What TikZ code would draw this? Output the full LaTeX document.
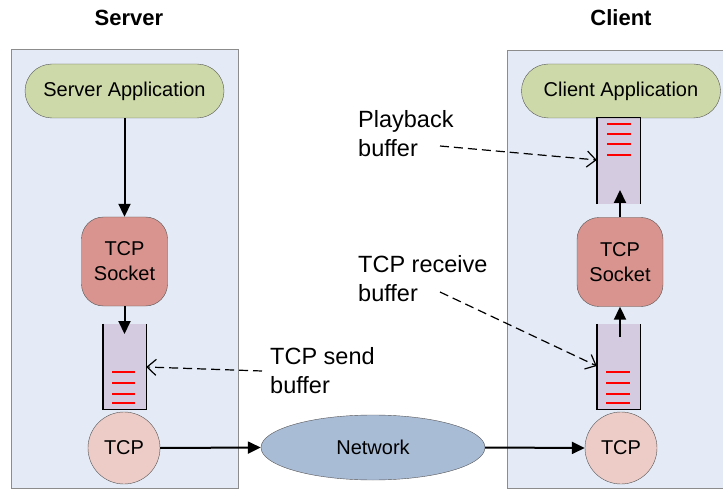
\documentclass[tikz,border=0pt]{standalone}
\usepackage{fontspec}
\setmainfont{Liberation Sans}
\usetikzlibrary{arrows.meta,shapes.geometric}

\definecolor{panelfill}{HTML}{E4EBF6}
\definecolor{panelline}{HTML}{8C8C8C}
\definecolor{appfill}{HTML}{CDD9A8}
\definecolor{sockfill}{HTML}{D9948F}
\definecolor{tcpfill}{HTML}{EDCCC8}
\definecolor{buffill}{HTML}{D4CBE0}
\definecolor{netfill}{HTML}{A9BCD6}
\definecolor{shapeline}{HTML}{555555}

\tikzset{
  panel/.style={draw=panelline, fill=panelfill, line width=1pt},
  appnode/.style={draw=shapeline, fill=appfill, rounded corners=27pt,
    minimum width=199pt, minimum height=54pt, inner sep=0pt,
    font=\fontsize{20}{24}\selectfont},
  socknode/.style={draw=shapeline, fill=sockfill, rounded corners=22pt,
    minimum width=86pt, minimum height=89pt, inner sep=0pt, align=center,
    font=\fontsize{20}{25}\selectfont},
  tcpnode/.style={circle, draw=shapeline, fill=tcpfill, minimum size=72pt,
    inner sep=0pt, font=\fontsize{20}{24}\selectfont},
  netnode/.style={ellipse, draw=shapeline, fill=netfill, minimum width=224pt,
    minimum height=65pt, inner sep=0pt, font=\fontsize{20}{24}\selectfont},
  bufnode/.style={fill=buffill, minimum width=43pt, inner sep=0pt},
  bufwall/.style={draw=black, line width=1.4pt},
  level/.style={draw=red, line width=1.2pt},
  flow/.style={line width=2pt, -{Triangle[length=13pt,width=12pt]}},
  pointer/.style={line width=1.2pt, dash pattern=on 9pt off 5pt,
    -{Straight Barb[length=9pt,width=16pt,line width=1.2pt]}},
  caption/.style={anchor=north west, inner sep=0pt, align=left,
    font=\fontsize{23.5}{29}\selectfont},
  title/.style={font=\fontsize{22}{26}\selectfont\bfseries}
}

\begin{document}
\begin{tikzpicture}[x=1pt, y=-1pt]
  \useasboundingbox (0,0) rectangle (723,489);
  \clip (0,0) rectangle (723,489);

  % side panels
  \draw[panel] (11,50) rectangle (238,488);
  \draw[panel] (507,51) rectangle (740,488);

  % headings
  \node[title] (srvtitle) at (129,18) {Server};
  \node[title] (clititle) at (621,18) {Client};

  % server side
  \node[appnode] (srvapp) at (124.5,91) {Server Application};
  \node[socknode] (srvsock) at (124.5,261.5) {TCP\\Socket};
  \node[bufnode, minimum height=85pt] (sbuf) at (124.5,366.5) {};
  \node[tcpnode] (srvtcp) at (124,448) {TCP};

  % network
  \node[netnode] (net) at (373,447.5) {Network};

  % client side
  \node[tcpnode] (clitcp) at (621,448) {TCP};
  \node[bufnode, minimum height=85pt] (rbuf) at (618.5,366.5) {};
  \node[socknode] (clisock) at (620,262) {TCP\\Socket};
  \node[bufnode, minimum height=86pt] (pbuf) at (618.5,161) {};
  \node[appnode] (cliapp) at (621,91) {Client Application};

  % buffer walls (open towards the incoming data)
  \draw[bufwall] (sbuf.north west) -- (sbuf.south west) -- (sbuf.south east) -- (sbuf.north east);
  \draw[bufwall] (rbuf.north west) -- (rbuf.south west) -- (rbuf.south east) -- (rbuf.north east);
  \draw[bufwall] (pbuf.south west) -- (pbuf.north west) -- (pbuf.north east) -- (pbuf.south east);

  % buffered data
  \foreach \yy in {372,383,394,403} {
    \draw[level] (112,\yy) -- (135,\yy);
    \draw[level] (606,\yy) -- (630,\yy);
  }
  \foreach \yy in {124,134,144,155} {
    \draw[level] (607,\yy) -- (631,\yy);
  }

  % data flow
  \coordinate (sbufin) at (124.5,334);
  \coordinate (rbufout) at (620,337);
  \coordinate (pbufin) at (620,190);
  \draw[flow] (srvapp.south) -- (srvapp.south |- srvsock.north);
  \draw[flow] (srvsock.south) -- (sbufin);
  \draw[flow] (srvtcp.east) -- (net.west);
  \draw[flow] (net.east) -- (clitcp.west);
  \draw[flow] (rbufout) -- (rbufout |- clisock.south);
  \draw[flow] (clisock.north -| pbufin) -- (pbufin);

  % buffer captions
  \node[caption] (pbcap) at (358,110) {Playback\\buffer};
  \node[caption] (rbcap) at (358,255) {TCP receive\\buffer};
  \node[caption] (sbcap) at (270,347) {TCP send\\buffer};

  \coordinate (pbtail) at (440,146);
  \coordinate (rbtail) at (440,292);
  \coordinate (sbtail) at (262,371);
  \draw[pointer] (pbtail) -- (pbuf.west |- 0,160);
  \draw[pointer] (rbtail) -- (rbuf.west |- 0,366);
  \draw[pointer] (sbtail) -- (sbuf.east |- 0,367);
\end{tikzpicture}
\end{document}
